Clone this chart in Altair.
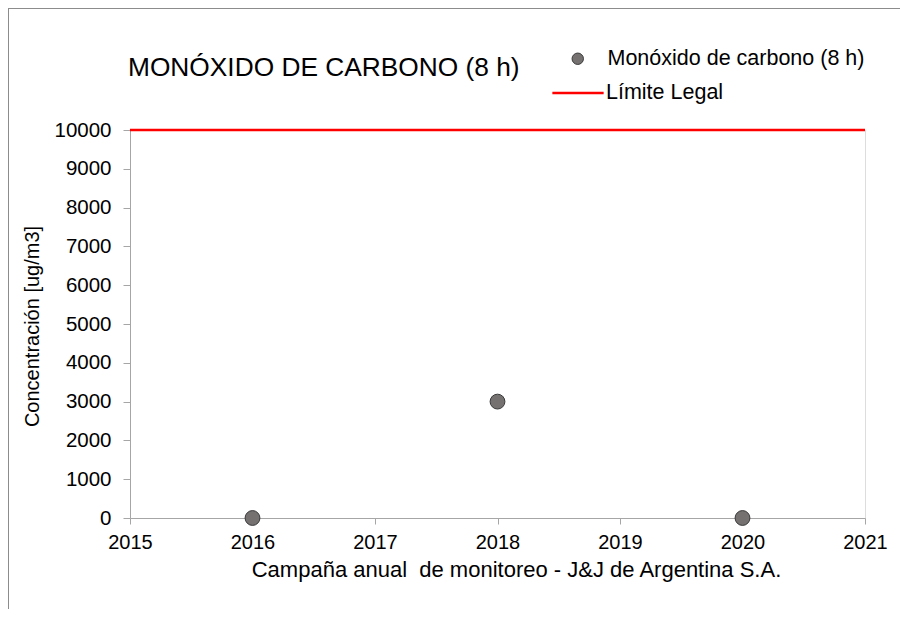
import altair as alt
import pandas as pd

years = [2016, 2018, 2020]
co_values = [0, 3000, 0]
limit_value = [10000]
series_points = "Monóxido de carbono (8 h)"
series_limit = "Límite Legal"
x_ticks = [2015, 2016, 2017, 2018, 2019, 2020, 2021]
y_ticks = [0, 1000, 2000, 3000, 4000, 5000, 6000, 7000, 8000, 9000, 10000]
title_text = "MONÓXIDO DE CARBONO (8 h)"
x_title = "Campaña anual\u00a0 de monitoreo - J&J de Argentina S.A."
y_title = "Concentración [ug/m3]"

FONT = "Liberation Sans"
AXIS_GRAY = "#a6a6a6"

pts = pd.DataFrame({"year": years, "value": co_values, "series": [series_points] * len(years)})
lim = pd.DataFrame({"value": limit_value, "series": [series_limit]})
frame = pd.DataFrame({"a": [0]})
ttl = pd.DataFrame({"t": [title_text]})

xscale = alt.Scale(domain=[2015, 2021], nice=False, zero=False)
yscale = alt.Scale(domain=[0, 10000], nice=False)

xaxis = alt.Axis(values=x_ticks, format="d", grid=False, domainColor=AXIS_GRAY, tickColor=AXIS_GRAY,
                 tickSize=6, labelFontSize=20, labelFont=FONT, labelColor="#000000", labelPadding=8,
                 labelOverlap=False,
                 title=x_title, titleFont=FONT, titleFontSize=22, titleFontWeight="normal",
                 titleColor="#000000", titleX=386, titleY=58, titleAlign="center",
                 titleBaseline="alphabetic", labelFlush=False)
yaxis = alt.Axis(values=y_ticks, format="d", grid=False, domainColor=AXIS_GRAY, tickColor=AXIS_GRAY,
                 tickSize=7, labelFontSize=20.5, labelFont=FONT, labelColor="#000000", labelPadding=12,
                 labelOverlap=False,
                 title=y_title, titleFont=FONT, titleFontSize=20, titleFontWeight="normal",
                 titleColor="#000000", titleX=-98, titleY=196, titleAlign="center",
                 titleBaseline="middle", titleAngle=270, labelFlush=False)

points = alt.Chart(pts).mark_circle(size=220, opacity=1, stroke="#3a3a3a", strokeWidth=1).encode(
    x=alt.X("year:Q", scale=xscale, axis=xaxis),
    y=alt.Y("value:Q", scale=yscale, axis=yaxis),
    fill=alt.Fill("series:N", scale=alt.Scale(domain=[series_points], range=["#767171"]),
                  legend=alt.Legend(title=None, orient="none", legendX=437, legendY=-82,
                                    symbolType="circle", symbolSize=130, symbolStrokeColor="#3a3a3a",
                                    symbolStrokeWidth=1, labelFont=FONT, labelFontSize=21.5,
                                    labelColor="#000000", labelOffset=19, padding=0, labelLimit=400)),
)

limit = alt.Chart(lim).mark_rule(strokeWidth=2.5).encode(
    y=alt.Y("value:Q", scale=yscale, axis=yaxis),
    stroke=alt.Stroke("series:N", scale=alt.Scale(domain=[series_limit], range=["#ff0000"]),
                      legend=alt.Legend(title=None, orient="none", legendX=421, legendY=-64,
                                        symbolType="stroke", symbolSize=2632, symbolStrokeWidth=2.5,
                                        labelFont=FONT, labelFontSize=21.5, labelColor="#000000",
                                        labelOffset=1, padding=0, labelLimit=400)),
)

title_mark = alt.Chart(ttl).mark_text(align="left", baseline="alphabetic", font=FONT, fontSize=26.3,
                                      color="#000000").encode(
    x=alt.value(-2), y=alt.value(-54), text="t:N")

border_left = alt.Chart(frame).mark_rule(color="#8c8c8c", strokeWidth=1).encode(
    x=alt.value(-121.5), y=alt.value(-122), y2=alt.value(500))
border_top = alt.Chart(frame).mark_rule(color="#8c8c8c", strokeWidth=1).encode(
    x=alt.value(-122), x2=alt.value(800), y=alt.value(-121.5))

chart = alt.layer(border_left, border_top, title_mark, points, limit).resolve_legend(
    fill="independent", stroke="independent").properties(
    width=735,
    height=388,
    autosize=alt.AutoSizeParams(type="none"),
    padding={"left": 122, "top": 122, "right": 35, "bottom": 91},
).configure_view(stroke=None).configure(background="white")

chart.save("out.html", embed_options={"renderer": "svg", "actions": False})
